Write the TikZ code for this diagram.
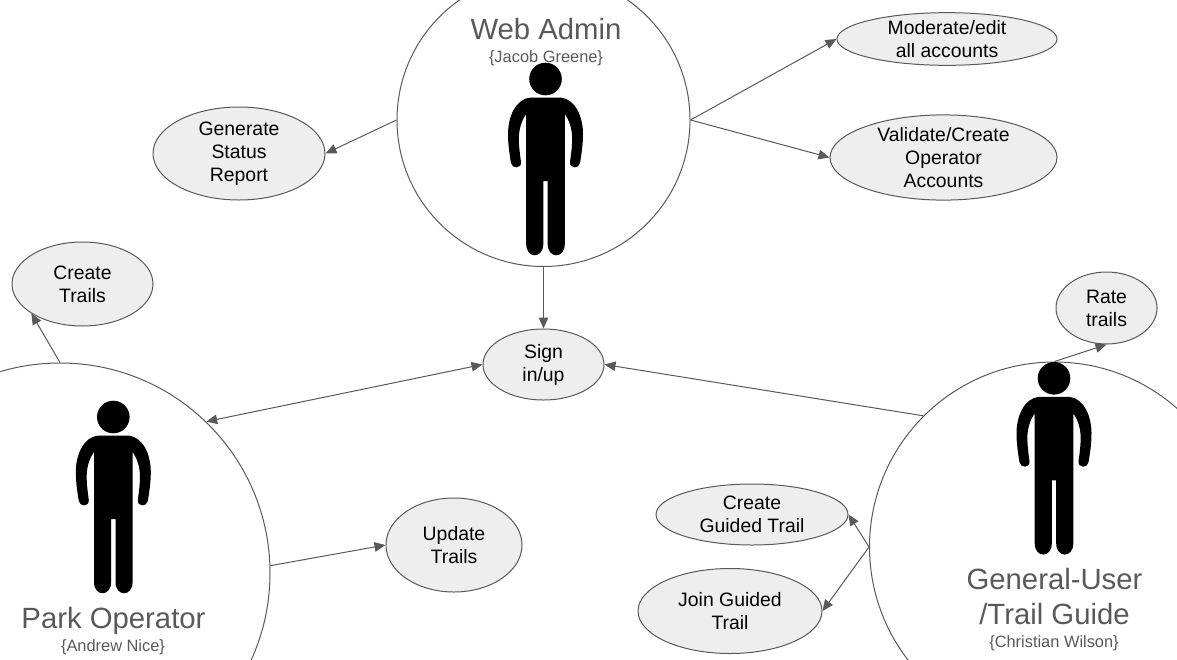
\documentclass[tikz,border=0pt]{standalone}
\usepackage{fontspec}
\setmainfont{Liberation Sans}
\usetikzlibrary{arrows.meta,shapes.geometric}
\definecolor{linegray}{HTML}{595959}
\definecolor{casegray}{HTML}{EEEEEE}
\tikzset{
	pics/person/.style={code={
		\fill[black] (0,0) circle (16.3pt);
		\fill[black] (-15,18.5) -- (15,18.5)
			.. controls (30,20) and (37.5,38) .. (37.5,55)
			.. controls (37.5,65) and (36,75) .. (34.5,84)
			.. controls (33.5,90) and (24,90) .. (24.5,83)
			.. controls (26,72) and (27,64) .. (26.5,56)
			.. controls (26,48) and (23,40) .. (19.3,35)
			-- (19.3,165) .. controls (19.3,180) and (2.2,180) .. (2.2,165)
			-- (2.2,102) -- (-2.2,102) -- (-2.2,165)
			.. controls (-2.2,180) and (-19.3,180) .. (-19.3,165)
			-- (-19.3,35)
			.. controls (-23,40) and (-26,48) .. (-26.5,56)
			.. controls (-27,64) and (-26,72) .. (-24.5,83)
			.. controls (-24,90) and (-33.5,90) .. (-34.5,84)
			.. controls (-36,75) and (-37.5,65) .. (-37.5,55)
			.. controls (-37.5,38) and (-30,20) .. (-15,18.5) -- cycle;
	}}
}

\begin{document}
\begin{tikzpicture}[x=1pt,y=-1pt]
	\tikzstyle{actor}=[draw=linegray,line width=1pt,circle,inner sep=0pt]
	\tikzstyle{usecase}=[draw=linegray,line width=1pt,fill=casegray,ellipse,inner sep=0pt,align=center,font=\fontsize{19.4}{23}\selectfont]
	\tikzstyle{rolename}=[text=linegray,align=center,inner sep=0pt,font=\fontsize{29.3}{35}\selectfont]
	\tikzstyle{username}=[text=linegray,inner sep=0pt,font=\fontsize{16.4}{20}\selectfont]
	\tikzstyle{link}=[draw=linegray,line width=1pt,-{Triangle[length=11pt,width=9.5pt]}]
	\useasboundingbox (0,0) rectangle (1177,659);
	\clip (0,0) rectangle (1177,659);

	\node[actor,minimum size=293pt] (webadmin) at (543.5,120) {};
	\node[actor,minimum size=420pt] (parkop) at (60,573) {};
	\node[actor,minimum size=370pt] (general) at (1054.5,547) {};

	\pic at (545.5,79) {person};
	\pic at (113.3,417) {person};
	\pic at (1054,378.3) {person};

	\node[rolename] (webtitle) at (546,29) {Web Admin};
	\node[username] (webname) at (546,58) {\{Jacob Greene\}};
	\node[rolename] (parktitle) at (113.5,621) {Park Operator};
	\node[username] (parkname) at (113,647) {\{Andrew Nice\}};
	\node[rolename] (generaltitle) at (1054.5,596.5) {General-User\\/Trail Guide};
	\node[username] (generalname) at (1054,643) {\{Christian Wilson\}};

	\node[usecase,minimum width=220pt,minimum height=51pt] (moderate) at (947,39) {Moderate/edit\\all accounts};
	\node[usecase,minimum width=227pt,minimum height=85pt] (validate) at (943.5,157.5) {Validate/Create\\Operator\\Accounts};
	\node[usecase,minimum width=172pt,minimum height=93pt] (report) at (239,153.5) {Generate\\Status\\Report};
	\node[usecase,minimum width=141pt,minimum height=84pt] (createtrails) at (82.5,284) {Create\\Trails};
	\node[usecase,minimum width=121pt,minimum height=71pt] (signin) at (543.5,364.5) {Sign\\in/up};
	\node[usecase,minimum width=101pt,minimum height=72pt] (rate) at (1106.5,308) {Rate\\trails};
	\node[usecase,minimum width=136pt,minimum height=94pt] (update) at (454,545) {Update\\Trails};
	\node[usecase,minimum width=192pt,minimum height=61pt] (createguided) at (752,514.5) {Create\\Guided Trail};
	\node[usecase,minimum width=184pt,minimum height=85pt] (joinguided) at (730,611) {Join Guided\\Trail};

	\draw[link] (webadmin.180) -- (report.east);
	\draw[link] (webadmin.0) -- (moderate.west);
	\draw[link] (webadmin.0) -- (validate.west);
	\draw[link] (webadmin.south) -- (signin.north);
	\draw[link] (parkop.north) -- (createtrails.210);
	\draw[link,{Triangle[length=11pt,width=9.5pt]}-{Triangle[length=11pt,width=9.5pt]}] (parkop.46) -- (signin.west);
	\draw[link] (parkop.2) -- (update.west);
	\draw[link] (general.135) -- (signin.east);
	\draw[link] (general.north) -- (rate.south);
	\draw[link] (general.west) -- (createguided.east);
	\draw[link] (general.west) -- (joinguided.east);
\end{tikzpicture}
\end{document}
